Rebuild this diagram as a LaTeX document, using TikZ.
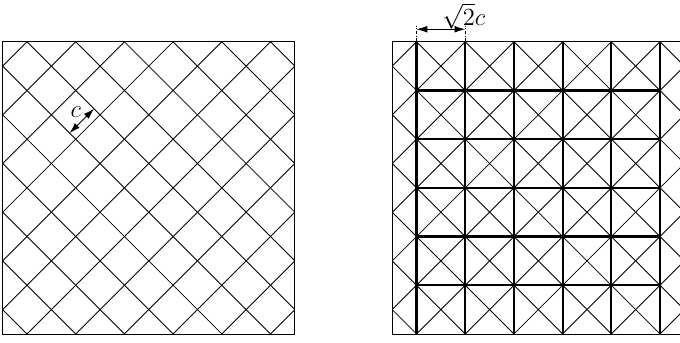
\documentclass[tikz,border=0pt]{standalone}
\usetikzlibrary{arrows.meta}
\begin{document}
\begin{tikzpicture}[
  thinline/.style={line width=0.5pt},
  thickline/.style={line width=1.3pt},
  lbl/.style={font=\fontsize{13.5}{16}\selectfont, inner sep=0pt},
  dimarrow/.style={line width=0.5pt, {Latex[length=2.2mm,width=1.4mm]}-{Latex[length=2.2mm,width=1.4mm]}},
  extline/.style={line width=0.5pt, dash pattern=on 2pt off 1pt on 0.5pt off 1pt}
]
\useasboundingbox (-0.055,-0.185) rectangle (13.91,6.858);
% ---------- left square ----------
\begin{scope}
  \clip (0,0) rectangle (6,6);
  \foreach \c in {-5.5,-4.5,...,5.5} \draw[thinline] (\c,0) -- ++(6,6);
  \foreach \d in {0.5,1.5,...,11.5} \draw[thinline] (\d,0) -- ++(-6,6);
\end{scope}
\draw[thinline] (0,0) rectangle (6,6);
\coordinate (ca) at (1.375,4.125);
\coordinate (cb) at (1.875,4.625);
\draw[dimarrow] (ca) -- (cb);
\node[lbl] (clabel) at (1.50,4.56) {$c$};
% ---------- right square ----------
\begin{scope}[xshift=8cm]
  \begin{scope}
    \clip (0,0) rectangle (5.91,6);
    \foreach \c in {-5.5,-4.5,...,5.5} \draw[thinline] (\c,0) -- ++(6,6);
    \foreach \d in {0.5,1.5,...,11.5} \draw[thinline] (\d,0) -- ++(-6,6);
  \end{scope}
  \begin{scope}
    \clip (-0.2,-0.2) rectangle (5.91,6.2);
    \draw[thinline] (6,0) -- (0,0) -- (0,6) -- (6,6);
  \end{scope}
  \foreach \x in {0.5,1.5,...,5.5} \draw[thickline] (\x,0) -- (\x,6);
  \foreach \y in {1,...,5} \draw[thickline] (0.5,\y) -- (5.5,\y);
  \coordinate (da) at (0.5,6);
  \coordinate (db) at (1.5,6);
  \coordinate (dae) at (0.5,6.324);
  \coordinate (dbe) at (1.5,6.324);
  \coordinate (dam) at (0.5,6.257);
  \coordinate (dbm) at (1.5,6.257);
  \draw[extline] (da) -- (dae);
  \draw[extline] (db) -- (dbe);
  \draw[dimarrow] (dam) -- (dbm);
  \node[lbl, anchor=north] (dlabel) at (1.47,6.80) {$\sqrt{2}c$};
\end{scope}
\end{tikzpicture}
\end{document}
